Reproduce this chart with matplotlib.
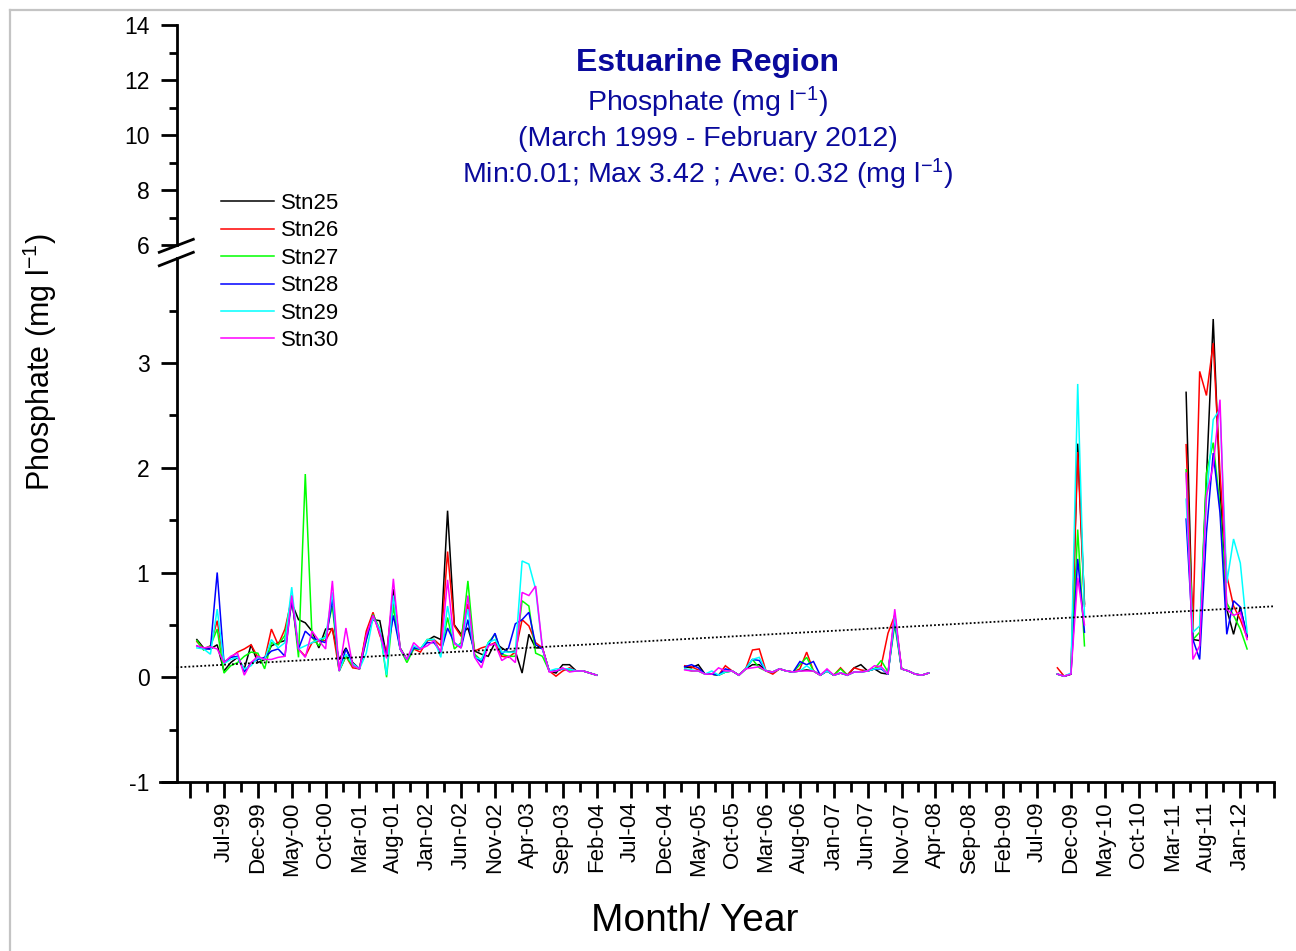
import numpy as np
import matplotlib
matplotlib.use("Agg")
import matplotlib.pyplot as plt
from matplotlib.lines import Line2D
from matplotlib.ticker import FixedLocator

plt.rcParams['font.family'] = ['Liberation Sans', 'DejaVu Sans']
plt.rcParams['mathtext.fontset'] = 'custom'
plt.rcParams['mathtext.rm'] = 'Liberation Sans'
plt.rcParams['mathtext.default'] = 'regular'
plt.rcParams['axes.unicode_minus'] = False

# ---------------- data ----------------
stations = ["Stn25", "Stn26", "Stn27", "Stn28", "Stn29", "Stn30"]
colors = ["#000000", "#FF0000", "#00FF00", "#0000FF", "#00FFFF", "#FF00FF"]

# first month of each sampled period (monthly data within each period)
seg_starts = ["1999-03", "2005-03", "2009-10", "2011-05"]

# Period 1: Mar-1999 .. Feb-2004
stn25_p1 = [0.36, 0.28, 0.27, 0.31, 0.06, 0.14, 0.19, 0.08, 0.31, 0.14, 0.17, 0.30, 0.33, 0.35, 0.71,
            0.55, 0.52, 0.44, 0.28, 0.46, 0.46, 0.17, 0.28, 0.14, 0.08, 0.41, 0.55, 0.54, 0.20, 0.84,
            0.28, 0.17, 0.28, 0.27, 0.35, 0.39, 0.36, 1.59, 0.50, 0.41, 0.47, 0.25, 0.22, 0.20, 0.33,
            0.28, 0.24, 0.25, 0.04, 0.41, 0.28, 0.28, 0.06, 0.04, 0.12, 0.12, 0.06, 0.06, 0.04, 0.02]
stn26_p1 = [0.34, 0.27, 0.30, 0.54, 0.14, 0.19, 0.24, 0.27, 0.31, 0.19, 0.17, 0.46, 0.31, 0.46, 0.75,
            0.27, 0.20, 0.33, 0.35, 0.35, 0.47, 0.06, 0.20, 0.09, 0.08, 0.44, 0.62, 0.40, 0.24, 0.74,
            0.27, 0.17, 0.27, 0.24, 0.35, 0.36, 0.30, 1.20, 0.49, 0.39, 0.70, 0.25, 0.28, 0.30, 0.33,
            0.20, 0.19, 0.24, 0.55, 0.49, 0.33, 0.28, 0.06, 0.01, 0.06, 0.09, 0.06, 0.06, 0.04, 0.02]
stn27_p1 = [0.35, 0.26, 0.30, 0.46, 0.04, 0.11, 0.14, 0.20, 0.24, 0.23, 0.08, 0.33, 0.31, 0.40, 0.78,
            0.19, 1.94, 0.38, 0.30, 0.40, 0.68, 0.06, 0.20, 0.11, 0.08, 0.35, 0.60, 0.46, 0.00, 0.68,
            0.27, 0.14, 0.27, 0.27, 0.36, 0.36, 0.23, 0.57, 0.27, 0.33, 0.92, 0.22, 0.16, 0.33, 0.41,
            0.22, 0.20, 0.20, 0.73, 0.68, 0.23, 0.20, 0.06, 0.06, 0.08, 0.06, 0.06, 0.06, 0.04, 0.02]
stn28_p1 = [0.30, 0.27, 0.27, 1.00, 0.14, 0.19, 0.20, 0.05, 0.14, 0.17, 0.19, 0.25, 0.27, 0.20, 0.75,
            0.27, 0.44, 0.38, 0.35, 0.33, 0.75, 0.06, 0.27, 0.13, 0.08, 0.36, 0.59, 0.44, 0.20, 0.59,
            0.27, 0.17, 0.28, 0.27, 0.33, 0.33, 0.24, 0.47, 0.33, 0.28, 0.55, 0.20, 0.14, 0.30, 0.42,
            0.22, 0.28, 0.51, 0.55, 0.62, 0.31, 0.27, 0.06, 0.06, 0.08, 0.08, 0.06, 0.06, 0.04, 0.02]
stn29_p1 = [0.28, 0.27, 0.22, 0.65, 0.13, 0.17, 0.19, 0.08, 0.11, 0.19, 0.17, 0.36, 0.28, 0.33, 0.86,
            0.27, 0.30, 0.33, 0.36, 0.38, 0.81, 0.06, 0.22, 0.13, 0.08, 0.23, 0.57, 0.46, 0.02, 0.78,
            0.27, 0.17, 0.30, 0.27, 0.36, 0.36, 0.19, 0.68, 0.32, 0.30, 0.65, 0.19, 0.17, 0.33, 0.36,
            0.24, 0.24, 0.24, 1.11, 1.08, 0.84, 0.27, 0.06, 0.08, 0.08, 0.08, 0.06, 0.06, 0.04, 0.02]
stn30_p1 = [0.30, 0.28, 0.29, 0.27, 0.14, 0.20, 0.23, 0.02, 0.14, 0.20, 0.17, 0.17, 0.19, 0.20, 0.78,
            0.27, 0.19, 0.44, 0.35, 0.27, 0.92, 0.06, 0.47, 0.11, 0.08, 0.40, 0.59, 0.42, 0.18, 0.94,
            0.27, 0.17, 0.33, 0.27, 0.30, 0.35, 0.24, 0.93, 0.32, 0.28, 0.78, 0.19, 0.09, 0.30, 0.32,
            0.16, 0.20, 0.14, 0.81, 0.78, 0.87, 0.28, 0.05, 0.06, 0.09, 0.05, 0.06, 0.06, 0.04, 0.02]

# Period 2: Mar-2005 .. Mar-2008
stn25_p2 = [0.10, 0.09, 0.12, 0.03, 0.03, 0.02, 0.05, 0.06, 0.02, 0.08, 0.12, 0.12, 0.06, 0.05, 0.08,
            0.06, 0.05, 0.06, 0.07, 0.06, 0.02, 0.06, 0.02, 0.04, 0.02, 0.09, 0.12, 0.06, 0.08, 0.04,
            0.03, 0.60, 0.08, 0.06, 0.03, 0.02, 0.04]
stn26_p2 = [0.11, 0.10, 0.07, 0.03, 0.03, 0.02, 0.11, 0.06, 0.02, 0.08, 0.26, 0.27, 0.06, 0.03, 0.08,
            0.06, 0.05, 0.08, 0.24, 0.06, 0.02, 0.06, 0.02, 0.09, 0.02, 0.09, 0.07, 0.06, 0.08, 0.11,
            0.42, 0.59, 0.08, 0.06, 0.03, 0.02, 0.04]
stn27_p2 = [0.08, 0.06, 0.06, 0.03, 0.03, 0.02, 0.05, 0.06, 0.02, 0.08, 0.17, 0.09, 0.06, 0.05, 0.08,
            0.06, 0.05, 0.12, 0.19, 0.06, 0.02, 0.06, 0.02, 0.08, 0.02, 0.05, 0.05, 0.06, 0.08, 0.16,
            0.05, 0.50, 0.08, 0.06, 0.03, 0.02, 0.04]
stn28_p2 = [0.10, 0.12, 0.09, 0.03, 0.03, 0.02, 0.08, 0.06, 0.02, 0.08, 0.17, 0.16, 0.06, 0.05, 0.08,
            0.06, 0.05, 0.15, 0.12, 0.15, 0.02, 0.06, 0.02, 0.04, 0.02, 0.05, 0.05, 0.06, 0.08, 0.08,
            0.03, 0.55, 0.08, 0.06, 0.03, 0.02, 0.04]
stn29_p2 = [0.08, 0.07, 0.06, 0.03, 0.06, 0.02, 0.05, 0.06, 0.02, 0.08, 0.17, 0.19, 0.06, 0.05, 0.08,
            0.06, 0.05, 0.06, 0.11, 0.06, 0.02, 0.06, 0.02, 0.04, 0.02, 0.05, 0.05, 0.06, 0.08, 0.09,
            0.03, 0.58, 0.08, 0.06, 0.03, 0.02, 0.04]
stn30_p2 = [0.07, 0.06, 0.06, 0.03, 0.03, 0.09, 0.06, 0.06, 0.02, 0.08, 0.09, 0.10, 0.06, 0.05, 0.08,
            0.06, 0.05, 0.06, 0.06, 0.06, 0.02, 0.08, 0.02, 0.04, 0.02, 0.05, 0.05, 0.06, 0.11, 0.10,
            0.03, 0.65, 0.08, 0.06, 0.03, 0.02, 0.04]

# Period 3: Oct-2009 .. Feb-2010
stn25_p3 = [0.03, 0.01, 0.03, 2.23, 0.70]
stn26_p3 = [0.09, 0.01, 0.03, 2.15, 0.68]
stn27_p3 = [0.03, 0.01, 0.03, 1.41, 0.30]
stn28_p3 = [0.03, 0.01, 0.03, 1.13, 0.43]
stn29_p3 = [0.03, 0.01, 0.04, 2.80, 0.58]
stn30_p3 = [0.03, 0.01, 0.03, 0.95, 0.50]

# Period 4: May-2011 .. Feb-2012
stn25_p4 = [2.72, 0.36, 0.35, 1.90, 3.42, 1.80, 0.65, 0.41, 0.67, 0.39]
stn26_p4 = [2.22, 0.45, 2.92, 2.69, 3.19, 1.95, 0.97, 0.68, 0.55, 0.38]
stn27_p4 = [1.98, 0.36, 0.43, 1.95, 2.24, 1.63, 0.71, 0.59, 0.46, 0.27]
stn28_p4 = [1.51, 0.36, 0.17, 1.38, 2.14, 1.57, 0.41, 0.73, 0.67, 0.39]
stn29_p4 = [1.70, 0.43, 0.49, 1.70, 2.46, 2.56, 0.90, 1.32, 1.09, 0.43]
stn30_p4 = [1.95, 0.17, 0.30, 1.73, 2.02, 2.65, 0.65, 0.59, 0.62, 0.36]

station_periods = [
    [stn25_p1, stn25_p2, stn25_p3, stn25_p4],
    [stn26_p1, stn26_p2, stn26_p3, stn26_p4],
    [stn27_p1, stn27_p2, stn27_p3, stn27_p4],
    [stn28_p1, stn28_p2, stn28_p3, stn28_p4],
    [stn29_p1, stn29_p2, stn29_p3, stn29_p4],
    [stn30_p1, stn30_p2, stn30_p3, stn30_p4],
]

# linear trend (value at Jan-1999 and slope per month)
trend_intercept = 0.098
trend_slope = 0.0036

tick_labels = ["", "Jul-99", "Dec-99", "May-00", "Oct-00", "Mar-01", "Aug-01", "Jan-02", "Jun-02",
               "Nov-02", "Apr-03", "Sep-03", "Feb-04", "Jul-04", "Dec-04", "May-05", "Oct-05",
               "Mar-06", "Aug-06", "Jan-07", "Jun-07", "Nov-07", "Apr-08", "Sep-08", "Feb-09",
               "Jul-09", "Dec-09", "May-10", "Oct-10", "Mar-11", "Aug-11", "Jan-12", ""]


def month_index(s):
    y, m = map(int, s.split("-"))
    return (y - 1999) * 12 + (m - 1)


# ---------------- figure ----------------
W, H = 1296, 951
fig = plt.figure(figsize=(W / 100, H / 100), dpi=100)
fig.patch.set_facecolor("white")


def fx(px):
    return px / W


def fy(py):
    return 1 - py / H


navy = "#0A0A9C"
x_left_px, x_right_px = 159.6, 1274.2
xmin, xmax = -3.5, 161
ax = fig.add_axes([fx(x_left_px), fy(782), (x_right_px - x_left_px) / W, (782 - 258.25) / H])
axt = fig.add_axes([fx(x_left_px), fy(245), (x_right_px - x_left_px) / W, (245 - 25) / H])

for a in (ax, axt):
    a.set_xlim(xmin, xmax)
    a.patch.set_alpha(0)
    a.spines['top'].set_visible(False)
    a.spines['right'].set_visible(False)
    a.spines['left'].set_position(('data', -1))
    a.spines['left'].set_linewidth(2.0)
    a.tick_params(axis='y', which='major', length=11.5, width=2.0, pad=8.0, labelsize=16.5,
                  direction='out')
    a.tick_params(axis='y', which='minor', length=5.8, width=2.0, direction='out')

axt.spines['bottom'].set_visible(False)
axt.set_xticks([])
axt.set_ylim(6, 14)
axt.yaxis.set_major_locator(FixedLocator([6, 8, 10, 12, 14]))
axt.yaxis.set_minor_locator(FixedLocator([7, 9, 11, 13]))

ax.set_ylim(-1, 4)
ax.yaxis.set_major_locator(FixedLocator([-1, 0, 1, 2, 3]))
ax.yaxis.set_minor_locator(FixedLocator([-0.5, 0.5, 1.5, 2.5, 3.5]))
ax.spines['bottom'].set_linewidth(2.0)
major_pos = [1 + 5 * k for k in range(len(tick_labels))]
ax.xaxis.set_major_locator(FixedLocator(major_pos))
ax.xaxis.set_minor_locator(FixedLocator([p + 2.5 for p in major_pos[:-1]]))
ax.set_xticklabels(tick_labels, rotation=90, fontsize=16)
ax.tick_params(axis='x', which='major', length=11.5, width=2.0, pad=2.5, direction='out')
ax.tick_params(axis='x', which='minor', length=7, width=2.0, direction='out')

# data lines
starts = [month_index(s) for s in seg_starts]
handles = []
for name, col, periods in zip(stations, colors, station_periods):
    for st, vals in zip(starts, periods):
        xs = st + np.arange(len(vals))
        ax.plot(xs, vals, color=col, lw=1.1, solid_joinstyle='miter', zorder=3)
    handles.append(Line2D([], [], color=col, lw=1.1, label=name))

# trend line
tx = np.array([-1, xmax])
ax.plot(tx, trend_intercept + trend_slope * tx, color='black', lw=1.3,
        linestyle=(0, (1.0, 1.2)), zorder=4)

# legend
axt.legend(handles=handles, loc='upper left', bbox_to_anchor=(fx(221), fy(193)),
           bbox_transform=fig.transFigure, frameon=False, fontsize=16,
           handlelength=2.4, handletextpad=0.3, labelspacing=0.29, borderpad=0,
           borderaxespad=0)

# titles
fig.text(fx(708), fy(71.5), "Estuarine Region", ha='center', va='baseline',
         fontsize=23, fontweight='bold', color=navy)
fig.text(fx(708), fy(111.5), r"Phosphate (mg l$^{-1}$)", ha='center', va='baseline',
         fontsize=20.5, color=navy)
fig.text(fx(708), fy(146), "(March 1999 - February 2012)", ha='center', va='baseline',
         fontsize=20.5, color=navy)
fig.text(fx(708), fy(183.5), r"Min:0.01; Max 3.42 ; Ave: 0.32 (mg l$^{-1}$)", ha='center',
         va='baseline', fontsize=20.5, color=navy)

# axis labels
fig.text(fx(40), fy(362), r"Phosphate (mg l$^{-1}$)", rotation=90, ha='center', va='center',
         fontsize=22, color='black')
fig.text(fx(695), fy(931), "Month/ Year", ha='center', va='baseline', fontsize=28, color='black')

# axis break marks
for (x0, y0, x1, y1) in [(159.3, 252.3, 193.3, 239.3), (159.3, 265.7, 193.3, 252.3)]:
    fig.add_artist(Line2D([fx(x0), fx(x1)], [fy(y0), fy(y1)], color='black', lw=2.0))

# light gray frame (top and left edges visible)
fig.add_artist(Line2D([fx(10), fx(10)], [fy(10), 0], color='#C4C4C4', lw=1.6))
fig.add_artist(Line2D([fx(10), 1], [fy(10), fy(10)], color='#C4C4C4', lw=1.6))

fig.savefig("out.png", dpi=100, facecolor='white')
